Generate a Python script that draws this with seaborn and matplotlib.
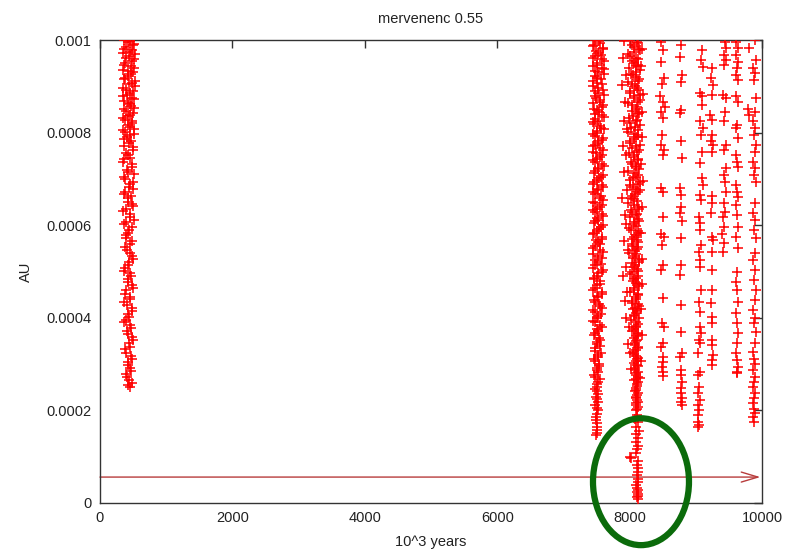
import matplotlib
matplotlib.use("Agg")
import matplotlib.pyplot as plt
import seaborn as sns
import pandas as pd
from matplotlib.patches import Ellipse
from matplotlib.ticker import FixedLocator, FuncFormatter

# ---- data (x in 10^3 years, y in micro-AU) ----
A_x = [360,460,520,400,490,350,440,520,380,470,350,500,420,360,480,530,390,450,350,510,
       420,470,360,500,430,380,490,450,350,520,410,470,370,500,430,360,480,410,520,380,
       450,500,360,430,480,390,460,510,370,440,400,490,380,450,500,420,370,470,430,500,
       380,450,410,490,440,370,470,420,500,450,390,480,430,470,410,480,450]
A_y = [1000,998,992,985,978,972,965,958,950,944,936,930,922,915,908,900,893,886,878,872,
       865,858,850,843,836,828,820,812,805,798,790,782,772,762,752,742,732,720,710,700,
       690,678,668,658,646,636,624,612,602,590,578,565,552,540,528,515,502,490,478,465,
       452,440,428,415,402,390,378,365,352,338,325,310,298,285,272,260,250]

A2_x = [430,500,370,450,530,400,480,360,510,420,470,380,530,440,350,500,410,480,370,450,
        520,390,460,340,490,420,510,380,450,360,440,500,390,460,350,480,420,370,500,440,
        380,470,420,500,350,450,400,480,430,390,460,410,490,440,380,460,420,490,400,450,
        370,480,430,390,460,410,490,440,380,470,420,460,400,440,420]
A2_y = [996,989,981,975,969,961,954,947,940,933,926,919,911,904,897,889,882,875,868,861,
        854,846,839,832,824,816,808,801,794,786,778,768,757,746,736,726,715,705,694,683,
        672,662,651,641,630,618,607,596,584,572,560,546,534,521,508,496,484,471,459,446,
        434,421,409,396,384,371,358,345,332,318,304,292,279,266,255]

B_x = [7480,7560,7450,7600,7520,7470,7580,7500,7440,7610,7530,7470,7570,7500,7450,7600,7520,7480,7560,7440,
       7590,7510,7470,7620,7530,7460,7570,7500,7450,7600,7520,7480,7560,7440,7590,7510,7470,7610,7530,7460,
       7570,7500,7450,7600,7520,7480,7560,7440,7590,7510,7470,7600,7530,7460,7570,7500,7450,7590,7520,7480,
       7560,7440,7580,7510,7470,7600,7530,7460,7560,7500,7450,7580,7520,7480,7550,7440,7570,7510,7470,7590,
       7530,7460,7550,7500,7470,7570,7520,7480,7540,7500,7460,7550,7510,7480,7530,7500,7470,7520,7490,7510,
       7500,7490]
B_y = [1000,993,987,980,972,965,958,951,944,937,930,922,915,908,900,893,885,878,871,863,
       856,848,841,834,826,819,811,804,796,789,781,774,766,759,751,744,736,728,721,713,
       705,698,690,682,675,667,659,651,644,636,628,620,612,604,596,588,580,571,563,555,
       546,538,530,521,513,504,496,487,479,470,461,452,444,435,426,417,408,399,390,381,
       372,362,353,344,334,325,316,306,296,287,277,267,257,246,236,224,212,200,186,172,
       158,147]

B2_x = [7540,7460,7600,7490,7570,7440,7610,7510,7580,7470,7620,7500,7450,7590,7530,7470,7610,7490,7550,7600,
        7460,7540,7590,7480,7450,7560,7610,7500,7470,7580,7530,7450,7600,7490,7560,7440,7580,7520,7470,7600,
        7540,7460,7590,7500,7450,7570,7600,7480,7550,7440,7580,7510,7470,7600,7540,7460,7590,7490,7560,7450,
        7600,7520,7480,7570,7440,7590,7510,7460,7550,7480,7580,7500,7460,7540,7590,7480,7520,7450,7560,7500,
        7470,7540,7500,7560,7480,7520,7460,7540,7500,7520,7480,7530,7500,7510,7490,7520,7500,7510,7490,7500,
        7500]
B2_y = [997,990,983,976,968,961,954,947,940,933,926,918,911,904,896,889,881,874,867,859,
        852,845,837,830,822,815,807,800,792,785,777,770,762,755,747,740,732,724,717,709,
        701,694,686,678,671,663,655,647,640,632,624,616,608,600,592,584,575,567,559,550,
        542,534,525,517,508,500,491,483,474,465,456,448,439,430,421,412,403,394,385,376,
        367,357,348,339,329,320,311,301,291,282,272,262,251,241,230,218,206,193,179,165,
        152]

C1_x = [8000,8120,8060,8150,7970,8090,8030,8130,7990,8100,8050,8140,7980,8080,8120,8010,8070,8150,7970,8110,
        8040,8130,7990,8090,8150,8020,7970,8120,8060,8000,8100,8140,7990,8060,8130,8030,8090,7980,8120,8050,
        8150,8010,8090,8130,8040,8070,7980,8120,8020,8110,8000,8140,8060,7990,8120,8090,8030,8130,8050,8110,
        7990,8080,8140,8030,8070,8120,8010,8100,8050,8130,8070,8010,8120,8090,8030,8140,8050,8100,8070,8020,
        8120,8090,8040,8130,8060,8100,8080,8120,8050,8100,8110,8070,8130,8080,8100,8120,8070,8110,8090,8080,
        8110,8100,8120,8090,8110]
C1_y = [1000,993,985,978,970,962,955,947,940,931,924,916,909,901,893,886,878,870,863,855,
        847,840,832,824,817,809,801,794,786,778,771,763,755,748,740,732,725,717,709,702,
        694,686,679,671,663,656,648,640,633,625,617,610,602,594,587,579,571,564,556,548,
        541,533,525,518,510,502,495,487,479,472,464,456,449,441,433,426,418,410,403,395,
        387,380,372,364,357,349,341,334,326,318,311,303,295,288,280,272,265,257,249,242,
        234,226,219,211,203]

C3_x = [8110,8040,8140,8070,8010,8130,8060,8100,8150,8020,8090,8130,8040,8110,8000,8150,8060,8120,8030,8090,
        8140,8050,8110,8010,8080,8130,8060,8100,8000,8150,8040,8110,8070,8130,8020,8100,8140,8060,8090,8010,
        8120,8050,8150,8080,8020,8110,8060,8140,8030,8090,8130,8060,8100,8020,8140,8070,8110,8040,8130,8080,
        8100,8050,8140,8080,8110,8030,8130,8070,8100,8140,8060,8120,8090,8040,8130,8080,8110,8060,8140,8090,
        8100,8070,8130,8090,8110,8080,8120,8100,8070,8130,8090,8110,8080,8120,8100,8090,8130,8110,8100,8120,
        8100,8110,8090,8120,8100]
C3_y = [996,989,981,974,966,958,951,943,935,927,920,912,905,897,889,882,874,866,859,851,
        843,836,828,820,813,805,797,790,782,774,767,759,751,744,736,728,721,713,705,698,
        690,682,675,667,659,652,644,636,629,621,613,606,598,590,583,575,567,560,552,544,
        537,529,521,514,506,498,491,483,475,468,460,452,445,437,429,422,414,406,399,391,
        383,376,368,360,353,345,337,330,322,314,307,299,291,284,276,268,261,253,245,238,
        230,222,215,207,200]

C2_x = [7920,8190,7900,8170,7950,7890,8200,7930,8180,7910,7960,8190,7900,7940,8170,7920,8200,7960,7890,8180,
        7930,7950,8170,7910,7970,8190,7940,7900,8180,7960,7930,8170,7950,7990,8180,7970,8000,8170,8020,8150]
C2_y = [998,981,962,944,925,903,884,866,845,826,808,790,771,752,733,714,696,677,658,640,
        621,602,584,566,547,528,510,491,473,455,436,418,399,381,362,344,325,307,289,270]

CT_x = [8110,8080,8130,8100,8140,8090,8120,8100,8130,8110,8090,8000,8020,8120,8110,8130,8120,8110,8130,8120,
        8100,8110,8130,8110,8120,8130,8110,8120]
CT_y = [190,182,174,165,156,148,140,132,124,116,108,100,97,90,82,75,68,60,52,45,
        38,32,27,23,19,15,12,9]

D_x = [8480,8500,8470,8520,8490,8460,8500,8530,8480,8510,8490,8470,8520,8500,8480,8510,
       8500,8470,8520,8490,8500,8480,8510,8490,8520,8500,8480,8510,8500,8490,8510,8500]
D_y = [996,978,953,917,906,878,867,856,845,831,795,773,762,752,680,672,
       618,582,575,557,514,503,442,388,381,345,338,316,305,294,284,274]

E_x = [8770,8760,8790,8770,8780,8760,8770,8790,8760,8780,8770,8760,8790,8770,
       8780,8760,8780,8770,8790,8760,8780,8770,8790,8780,8770,8790,8780,8790]
E_y = [989,964,924,910,849,842,781,745,680,665,640,626,608,572,
       514,492,428,370,323,316,287,276,262,248,237,226,219,212]

F_x = [9100,9080,9110,9070,9100,9090,9060,9110,9080,9100,9070,9090,9110,9060,9080,9050,9070,9060,9080,9050,
       9070,9060,9080,9050,9070,9060,9080,9050,9070,9040,9060,9040,9050,9030,9060,9040,9050,9030,9040,9050,
       9040]
F_y = [978,957,942,885,878,860,824,810,795,759,734,701,687,665,655,618,604,590,557,543,
       525,510,460,435,413,381,367,352,345,323,284,276,251,237,222,211,201,190,176,169,
       164]

F2_x = [9240,9230,9260,9240,9220,9250,9240,9230,9260,9240,9240,9250,9230,
        9240,9260,9240,9250,9240,9230,9250,9240,9250,9240,9260,9250,9250]
F2_y = [939,917,903,881,838,827,795,781,773,759,662,647,626,
        575,568,543,503,460,431,402,388,352,341,320,309,298]

G_x = [9440,9460,9420,9450,9430,9410,9450,9440,9420,9460,9430,
       9450,9420,9440,9460,9420,9440,9410,9430,9400,9420,9410]
G_y = [996,982,967,957,946,881,874,845,824,773,762,
       723,708,694,672,647,629,618,597,582,561,543]

G2_x = [9600,9630,9610,9640,9620,9600,9630,9610,9640,9620,9600,9630,9610,9620,9640,9600,9620,9630,
        9610,9620,9640,9610,9630,9620,9600,9620,9640,9610,9620,9630,9620,9610,9620,9630,9620,9620]
G2_y = [996,982,967,953,939,924,914,878,867,816,809,788,752,737,726,687,672,660,
        644,622,597,575,550,500,478,460,435,410,388,367,345,323,309,294,283,280]

H1_x = [9800,9790,9810]
H1_y = [982,852,838]

H_x = [9890,9910,9870,9900,9880,9910,9890,9870,9900,9880,9910,9890,9870,9900,9880,9910,
       9890,9870,9900,9880,9910,9890,9870,9900,9880,9910,9890,9870,9900,9880,9910,9890,
       9870,9880,9900,9870,9890,9880,9870,9890,9880,9870,9880,9890,9870,9880]
H_y = [1000,957,939,928,914,874,845,824,809,795,773,759,737,723,708,694,
       647,626,611,590,572,539,525,503,482,460,438,417,399,388,370,345,
       327,312,301,287,273,262,251,237,226,215,204,194,186,176]

line_y = 56      # horizontal arrow level, micro-AU
x_ticks = [0, 2000, 4000, 6000, 8000, 10000]
y_ticks = [0, 0.0002, 0.0004, 0.0006, 0.0008, 0.001]
title = "mervenenc 0.55"
xlabel = "10^3 years"
ylabel = "AU"

# ---- build table ----
groups = [(A_x, A_y), (A2_x, A2_y), (B_x, B_y), (B2_x, B2_y),
          (C1_x, C1_y), (C3_x, C3_y), (C2_x, C2_y), (CT_x, CT_y),
          (D_x, D_y), (E_x, E_y), (F_x, F_y), (F2_x, F2_y), (G_x, G_y),
          (G2_x, G2_y), (H1_x, H1_y), (H_x, H_y)]
rows = []
for xs, ys in groups:
    for xv, yv in zip(xs, ys):
        rows.append((xv, yv * 1e-6))
df = pd.DataFrame(rows, columns=["years", "au"])

# ---- plot ----
sns.set_theme(style="white")
plt.rcParams["font.family"] = ["Liberation Sans", "DejaVu Sans"]

fig = plt.figure(figsize=(7.85, 5.56), dpi=100)
ax = fig.add_axes([100/785, 53/556, 662/785, 463/556])

sns.scatterplot(data=df, x="years", y="au", marker="+", color="#ff0000",
                s=44, linewidth=1.1, ax=ax, legend=False, zorder=3)

ax.annotate("", xy=(9975, line_y * 1e-6), xytext=(0, line_y * 1e-6),
            arrowprops=dict(arrowstyle="->,head_length=1.0,head_width=0.3",
                            color="#b83c3c", lw=1.0, shrinkA=0, shrinkB=0),
            zorder=2)

ell = Ellipse((8172, 46e-6), width=1450, height=274e-6, fill=False,
              edgecolor="#0b6b0b", lw=4.5, clip_on=False, zorder=5)
ax.add_patch(ell)

ax.set_xlim(0, 10000)
ax.set_ylim(0, 0.001)
ax.xaxis.set_major_locator(FixedLocator(x_ticks))
ax.yaxis.set_major_locator(FixedLocator(y_ticks))
ax.yaxis.set_major_formatter(FuncFormatter(lambda v, p: "%g" % v))
ax.xaxis.set_major_formatter(FuncFormatter(lambda v, p: "%d" % v))
ax.tick_params(direction="in", length=6, width=1, color="#333333",
               top=True, right=True, labelsize=10.5, pad=6, labelcolor="#222222")

for s in ax.spines.values():
    s.set_color("#333333")
    s.set_linewidth(1)

ax.set_title(title, fontsize=10.5, pad=12, color="#222222")
ax.set_xlabel(xlabel, fontsize=10.5, labelpad=7, color="#222222")
ax.set_ylabel(ylabel, fontsize=10.5, labelpad=10, color="#222222")

fig.savefig("out.png", dpi=100)
